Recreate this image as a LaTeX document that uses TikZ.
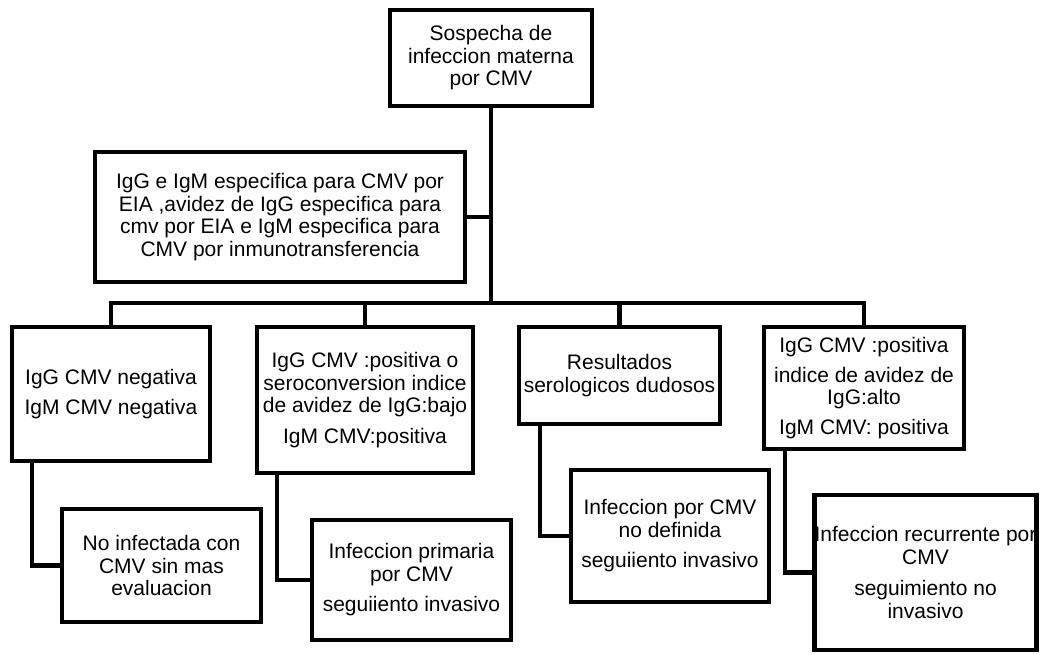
\documentclass[tikz,border=0pt]{standalone}
\usepackage{fontspec}
\setmainfont{Liberation Sans}
\begin{document}
\begin{tikzpicture}[x=1pt,y=-1pt,every text node part/.style={align=center},
box/.style={draw,line width=4.5pt,inner sep=0pt,font=\fontsize{21}{22.5}\selectfont},
link/.style={line width=4.5pt}]
\useasboundingbox (0,0) rectangle (1040,654);
\node [box,minimum width=202,minimum height=96] (top) at (491,58) {Sospecha de\\infeccion materna\\por CMV};
\node [box,minimum width=370,minimum height=130] (spec) at (280,217) {IgG e IgM especifica para CMV por\\EIA ,avidez de IgG especifica para\\cmv por EIA e IgM especifica para\\CMV por inmunotransferencia};
\node [box,minimum width=198,minimum height=134] (neg) at (111,394) {IgG CMV negativa\\[7.5pt]IgM CMV negativa};
\node [box,minimum width=216,minimum height=146] (prim) at (365,400) {IgG CMV :positiva o\\seroconversion indice\\de avidez de IgG:bajo\\[8pt]IgM CMV:positiva};
\node [box,minimum width=201,minimum height=97] (dud) at (619.5,375.5) {Resultados\\serologicos dudosos};
\node [box,minimum width=200,minimum height=122] (rec) at (864,388) {IgG CMV :positiva\\[7.5pt]indice de avidez de\\IgG:alto\\[7pt]IgM CMV: positiva};
\node [box,minimum width=199,minimum height=113] (noinf) at (161.5,565.5) {No infectada con\\CMV sin mas\\evaluacion};
\node [box,minimum width=199,minimum height=120] (infprim) at (411.5,580) {Infeccion primaria\\por CMV\\[8pt]seguiiento invasivo};
\node [box,minimum width=198,minimum height=132] (infnd) at (670,536) {Infeccion por CMV\\no definida\\[8pt]seguiiento invasivo};
\node [box,minimum width=221,minimum height=155] (infrec) at (925.5,572.5) {Infeccion recurrente por\\CMV\\[9pt]seguimiento no\\invasivo};
\coordinate (bar) at (0,303);
\draw [link] (top.south) -- (top.south |- bar);
\draw [link] (spec.east) -- (spec.east -| top.south);
\draw [link] (neg.north) -- (neg.north |- bar) -- (rec.north |- bar) -- (rec.north);
\draw [link] (prim.north) -- (prim.north |- bar);
\draw [link] (dud.north) -- (dud.north |- bar);
\draw [link] ([xshift=22pt]neg.south west) |- (noinf.west);
\draw [link] ([xshift=22pt]prim.south west) |- (infprim.west);
\draw [link] ([xshift=23pt]dud.south west) |- (infnd.west);
\draw [link] ([xshift=23pt]rec.south west) |- (infrec.west);
\end{tikzpicture}
\end{document}
